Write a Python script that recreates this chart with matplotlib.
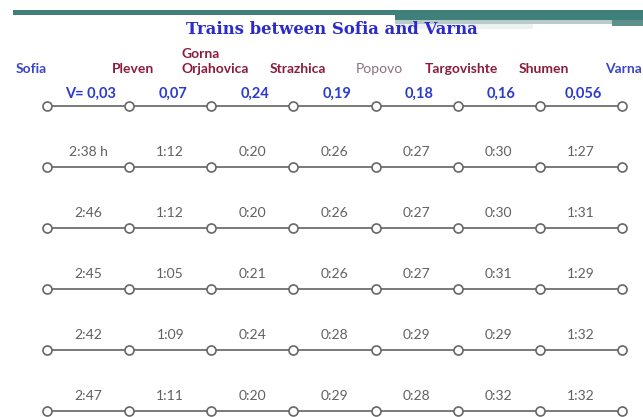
import numpy as np
import matplotlib
matplotlib.use('Agg')
import matplotlib.pyplot as plt
from matplotlib.patches import Rectangle

stations = ['Sofia', 'Pleven', 'Gorna\nOrjahovica', 'Strazhica', 'Popovo',
            'Targovishte', 'Shumen', 'Varna']
station_colors = ['#3a46c8', '#8b1c3c', '#8b1c3c', '#8b1c3c', '#8a6f80',
                  '#8b1c3c', '#8b1c3c', '#3a46c8']
speeds = ['V= 0,03', '0,07', '0,24', '0,19', '0,18', '0,16', '0,056']
times = [
    ['2:38 h', '1:12', '0:20', '0:26', '0:27', '0:30', '1:27'],
    ['2:46', '1:12', '0:20', '0:26', '0:27', '0:30', '1:31'],
    ['2:45', '1:05', '0:21', '0:26', '0:27', '0:31', '1:29'],
    ['2:42', '1:09', '0:24', '0:28', '0:29', '0:29', '1:32'],
    ['2:47', '1:11', '0:20', '0:29', '0:28', '0:32', '1:32'],
]

W, H = 643, 417
fig = plt.figure(figsize=(W / 100, H / 100), dpi=100)
fig.patch.set_facecolor('white')

# header band (figure pixel coords, y from top)
def frect(x0, y0, x1, y1, color, z=1):
    fig.patches.append(Rectangle((x0 / W, 1 - y1 / H), (x1 - x0) / W, (y1 - y0) / H,
                                 transform=fig.transFigure, color=color, zorder=z, lw=0))

frect(13, 10, 643, 15, '#3f807a')
frect(395, 10, 643, 20, '#3f807a')
frect(395, 20, 612, 24, '#b9cbc8')
frect(612, 20, 643, 26, '#5f918c')
frect(395, 24, 533, 29, '#eef1f1')

fig.text(332 / W, 1 - 30 / H, 'Trains between Sofia and Varna', ha='center', va='center',
         fontsize=11.9, fontweight='bold', family='DejaVu Serif', color='#2b2bcc')

ax = fig.add_axes([0, 0, 1, 1])
ax.set_axis_off()
ax.patch.set_alpha(0)
step = 575 / 7
ax.set_xlim(-47 / step, 7 + 21 / step)
ax.set_ylim((H - 106) / 61, -106 / 61)

x = np.arange(len(stations))
nrows = 1 + len(times)
for r in range(nrows):
    ax.plot(x, [r] * len(x), '-', color='#555555', lw=1.1, zorder=2)
    ax.plot(x, [r] * len(x), 'o', ms=6.5, mfc='white', mec='#666666', mew=1.2, zorder=3)

mid = x[:-1] + 0.5
for i, s in enumerate(speeds):
    ax.text(mid[i] + 0.03, -0.2, s, ha='center', va='center', fontsize=10.5,
            fontweight='bold', family='Lato', color='#2b3bd0')

for r, row in enumerate(times, start=1):
    for i, t in enumerate(row):
        ax.text(mid[i], r - 0.25, t, ha='center', va='center', fontsize=10,
                family='Lato', color='#606060')

for i, (s, c) in enumerate(zip(stations, station_colors)):
    ha = 'center'
    dx = 0.05
    if i == 0:
        ha, dx = 'right', 0.0
    elif i == len(stations) - 1:
        ha, dx = 'left', -0.2
    ax.text(x[i] + dx, -0.51, s, ha=ha, va='bottom', fontsize=10, multialignment='left',
            fontweight='normal' if s == 'Popovo' else 'bold', family='Lato', color=c,
            linespacing=1.25)

fig.savefig('out.png', dpi=100, facecolor='white')
